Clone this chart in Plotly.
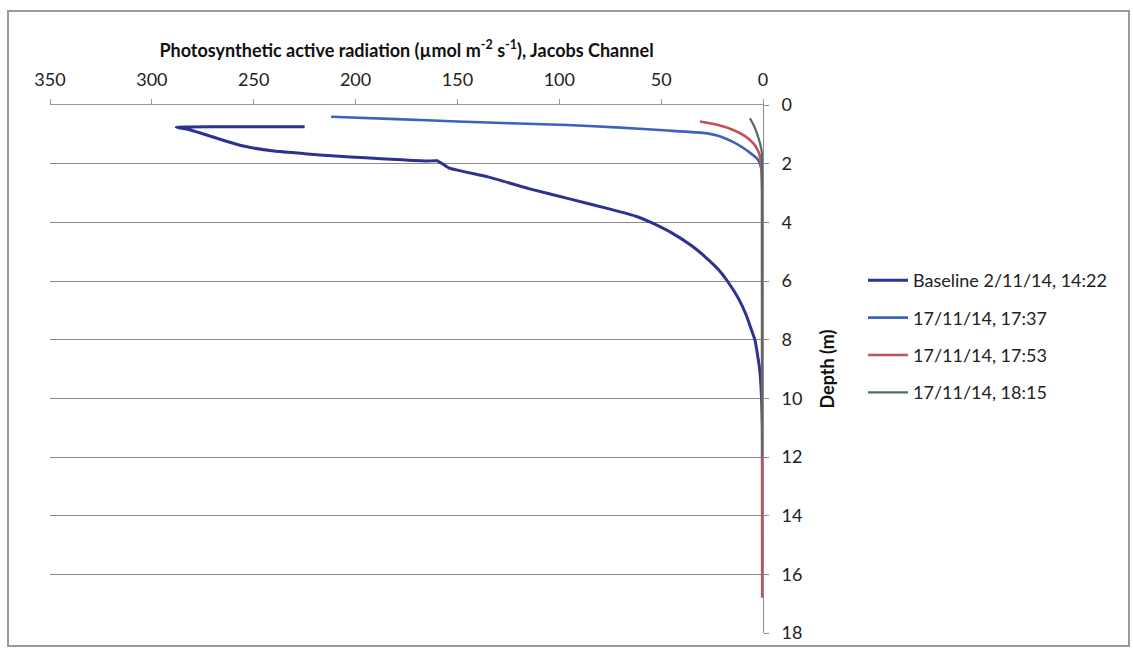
import plotly.graph_objects as go

# ---------------- data ----------------
series_names = ["Baseline 2/11/14, 14:22", "17/11/14, 17:37", "17/11/14, 17:53", "17/11/14, 18:15"]
series_colors = ["#2E3190", "#3B63BC", "#C4505A", "#4E6E62"]
series_widths = [3, 2.6, 2.6, 2.2]

baseline_par = [225, 288, 283, 275, 265, 255, 240, 225, 210, 195, 180, 165, 160, 157, 154, 135, 115,
                95, 75, 62, 55, 45, 35, 28, 22, 17.5, 12, 8, 5.5, 4, 2.5, 1.5, 0.7, 0.3, 0.2]
baseline_depth = [0.74, 0.76, 0.82, 0.98, 1.2, 1.4, 1.57, 1.66, 1.74, 1.8, 1.86, 1.91, 1.9, 2.02, 2.15, 2.45, 2.85,
                  3.2, 3.55, 3.8, 4.0, 4.35, 4.8, 5.2, 5.6, 6.0, 6.6, 7.2, 7.7, 8.0, 8.6, 9.1, 10.0, 11.0, 13.5]

s1737_par = [212, 180, 150, 120, 96, 70, 47, 28, 22, 15, 10, 6, 3, 1.5, 0.6, 0.3, 0.2]
s1737_depth = [0.40, 0.48, 0.56, 0.63, 0.68, 0.77, 0.87, 0.96, 1.05, 1.25, 1.45, 1.65, 1.82, 2.0, 2.3, 3.0, 12.5]

s1753_par = [31, 22, 14.6, 9, 4.8, 2.5, 1.5, 0.8, 0.5, 0.4]
s1753_depth = [0.56, 0.68, 0.85, 1.05, 1.3, 1.55, 1.75, 2.1, 3.0, 16.8]

s1815_par = [6.4, 4.5, 2.8, 1.5, 0.6, 0.4, 0.3]
s1815_depth = [0.45, 0.7, 1.0, 1.3, 1.6, 2.2, 12.0]

x_ticks = [0, 50, 100, 150, 200, 250, 300, 350]
y_ticks = [0, 2, 4, 6, 8, 10, 12, 14, 16, 18]

x_title = "Photosynthetic active radiation (µmol m<sup>-2</sup> s<sup>-1</sup>), Jacobs Channel"
y_title = "Depth (m)"

# ---------------- figure ----------------
W, H = 1133, 655
L, R, T, B = 50, 370, 105, 17
FONT = "Lato, 'Open Sans', sans-serif"
FS = 18

xs = [baseline_par, s1737_par, s1753_par, s1815_par]
ys = [baseline_depth, s1737_depth, s1753_depth, s1815_depth]

fig = go.Figure()
for i, name in enumerate(series_names):
    fig.add_trace(go.Scatter(
        x=xs[i], y=ys[i], mode="lines", name=name,
        legendgroup=f"g{i}",
        line=dict(color=series_colors[i], width=series_widths[i], shape="spline", smoothing=0.4),
    ))

pw = W - L - R
ph = H - T - B
def px2paper_x(px):
    return (px - L) / pw
def px2paper_y(py):
    return (H - B - py) / ph

fig.update_layout(
    width=W, height=H,
    margin=dict(l=L, r=R, t=T, b=B, pad=0),
    paper_bgcolor="white", plot_bgcolor="white",
    font=dict(family=FONT, size=FS, color="#222222"),
    showlegend=True,
    legend=dict(
        xref="container", yref="container",
        x=863 / W, y=1 - 262 / H, xanchor="left", yanchor="top",
        font=dict(family=FONT, size=FS, color="#222222"),
        itemwidth=40,
        tracegroupgap=11, bgcolor="rgba(0,0,0,0)",
    ),
    xaxis=dict(
        side="top", range=[350, 0], tickvals=x_ticks, ticktext=[str(v) for v in x_ticks],
        showgrid=False, zeroline=False,
        showline=True, linecolor="#9a9a9a", linewidth=1,
        ticks="outside", ticklen=5, tickcolor="#9a9a9a",
        ticklabelstandoff=6,
        tickfont=dict(family=FONT, size=FS, color="#222222"),
        title=dict(text=x_title, font=dict(family=FONT, size=FS, color="#111111", weight="bold"), standoff=5),
    ),
    yaxis=dict(
        side="right", range=[18, 0], tickvals=y_ticks,
        showgrid=True, gridcolor="#8a8a8a", gridwidth=1,
        zeroline=False,
        showline=True, linecolor="#8a8a8a", linewidth=1,
        ticks="outside", ticklen=5, tickcolor="#8a8a8a",
        ticklabelstandoff=9,
        tickfont=dict(family=FONT, size=FS, color="#222222"),
        title=dict(text=y_title, font=dict(family=FONT, size=FS, color="#111111", weight="bold"), standoff=19),
    ),
    shapes=[dict(
        type="rect", xref="paper", yref="paper",
        x0=px2paper_x(8), x1=px2paper_x(1129), y0=px2paper_y(651), y1=px2paper_y(10),
        line=dict(color="#9a9a9a", width=2), fillcolor="rgba(0,0,0,0)", layer="below",
    )],
)

fig.write_html("out.html")
